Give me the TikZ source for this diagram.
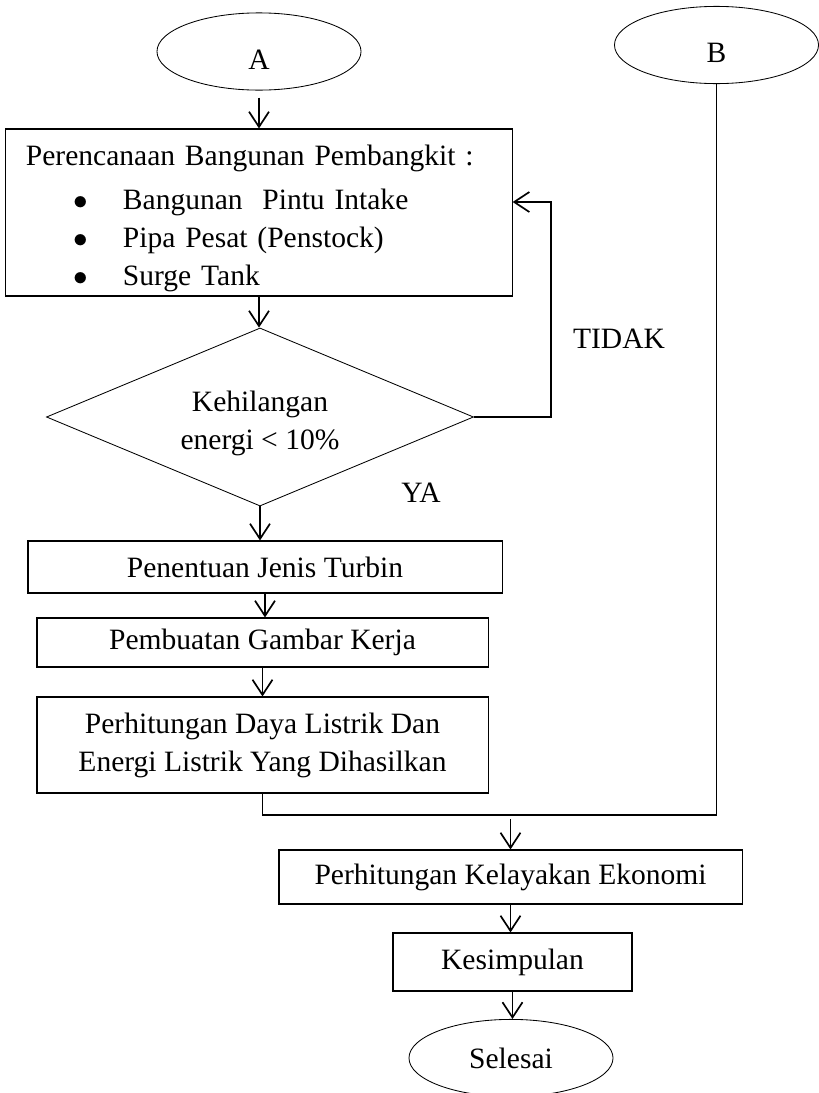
\documentclass[tikz,border=0pt]{standalone}
\usepackage{fontspec}
\setmainfont{Liberation Serif}
\usetikzlibrary{shapes,arrows.meta,positioning,calc}

\begin{document}
\begin{tikzpicture}[
    x=0.025cm, y=-0.025cm,
    every node/.style={font=\fontsize{21}{27}\selectfont},
    terminal/.style={ellipse, draw, line width=0.6pt, minimum width=5.1cm, minimum height=1.93cm, inner sep=0pt},
    proses/.style={rectangle, draw, line width=0.8pt, inner sep=0pt},
    keputusan/.style={diamond, draw, line width=0.6pt, shape aspect=2.4, minimum width=10.675cm, minimum height=4.45cm, inner sep=0pt, align=center},
    arrow/.style={-{Straight Barb[length=3.8mm, width=5mm]}, line width=1.2pt},
    line/.style={line width=1.2pt}
]
\useasboundingbox (0,0) rectangle (819,1093);

\node[terminal, text height=0.9cm] (A) at (259,51.5) {A};
\node[terminal, text height=0.9cm] (B) at (716.5,45) {B};
\node[proses, minimum width=12.65cm, minimum height=4.175cm, text width=11.65cm, text height=0.8cm, align=left] (plan) at (259,212.5) {Perencanaan Bangunan Pembangkit :\\[0.15cm]
    \makebox[2.425cm][l]{\hspace*{1.2cm}$\bullet$}Bangunan~ Pintu Intake\\
    \makebox[2.425cm][l]{\hspace*{1.2cm}$\bullet$}Pipa Pesat (Penstock)\\
    \makebox[2.425cm][l]{\hspace*{1.2cm}$\bullet$}Surge Tank};
\node[keputusan, text height=1.8cm] (dec) at (260,417) {Kehilangan\\energi < 10\%};
\node[proses, minimum width=11.85cm, minimum height=1.3cm] (turbin) at (265,567) {Penentuan Jenis Turbin};
\node[proses, minimum width=11.275cm, minimum height=1.225cm] (gambar) at (262.5,642.5) {Pembuatan Gambar Kerja};
\node[proses, minimum width=11.275cm, minimum height=2.4cm, align=center] (daya) at (262.5,745) {Perhitungan Daya Listrik Dan\\Energi Listrik Yang Dihasilkan};
\node[proses, minimum width=11.575cm, minimum height=1.35cm] (ekonomi) at (510.5,877) {Perhitungan Kelayakan Ekonomi};
\node[proses, minimum width=5.975cm, minimum height=1.45cm] (simpul) at (512.5,962) {Kesimpulan};
\node[terminal] (selesai) at (511,1058) {Selesai};

\node (tidak) at (619,339) {TIDAK};
\node (ya) at (421,493) {YA};

\coordinate (fb) at (551,202);
\coordinate (gabung) at (510.5,815);

\draw[arrow, shorten <=5pt] (A) -- (plan);
\draw[arrow] (plan.south) -- (plan.south |- dec.north);
\draw[arrow] (dec.east) -| (fb) -- (plan.east |- fb);
\draw[arrow] (dec.south) -- (dec.south |- turbin.north);
\draw[arrow] (turbin.south) -- (turbin.south |- gambar.north);
\draw[arrow] (gambar.south) -- (gambar.south |- daya.north);
\draw[line] (daya.south) |- (gabung) -| (B.south);
\draw[arrow, shorten <=3pt] (gabung) -- (ekonomi.north);
\draw[arrow] (ekonomi.south) -- (ekonomi.south |- simpul.north);
\draw[arrow] (simpul.south) -- (simpul.south |- selesai.north);
\end{tikzpicture}
\end{document}
